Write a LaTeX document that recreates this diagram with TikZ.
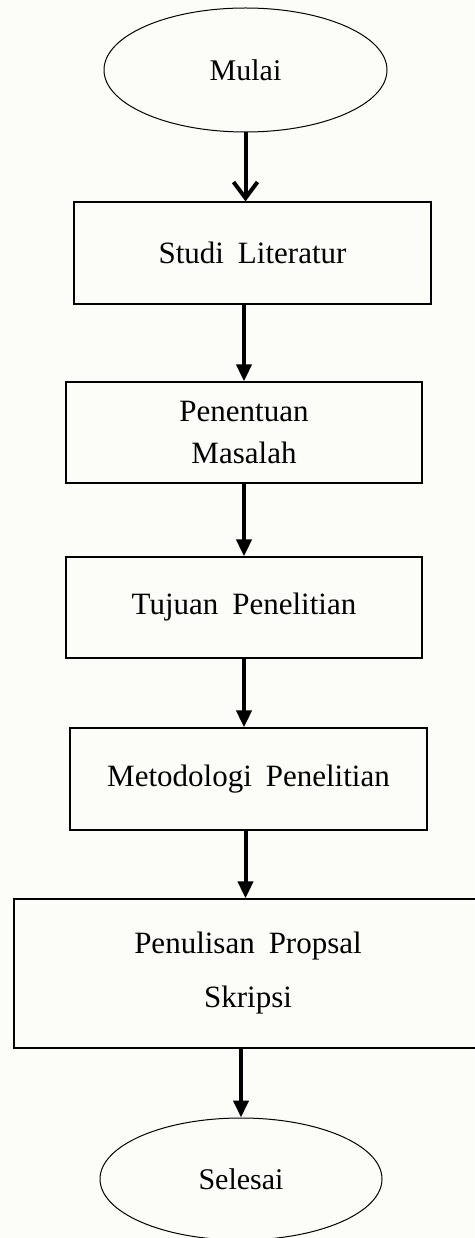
\documentclass[tikz,border=0pt]{standalone}
\usepackage{fontspec}
\setmainfont{Liberation Serif}[WordSpace=1.8]
\usetikzlibrary{shapes.geometric, arrows.meta}
\definecolor{paper}{RGB}{252,252,248}

\begin{document}
\begin{tikzpicture}[x=1pt, y=-1pt, >={Triangle[length=17pt, width=15pt]},
    terminal/.style={ellipse, draw, line width=1pt, inner sep=0pt, font=\fontsize{30}{36}\selectfont},
    process/.style={rectangle, draw, line width=1.3pt, inner sep=0pt, align=center, font=\fontsize{31}{42}\selectfont},
    flow/.style={->, line width=4pt}]
    \fill[paper] (0,0) rectangle (474,1238);
    \useasboundingbox (0,0) rectangle (474,1238);

    \node[terminal, minimum width=283pt, minimum height=124pt] (mulai) at (245.5,70) {Mulai};
    \node[process, minimum width=357pt, minimum height=102pt] (studi) at (252.5,253) {Studi Literatur};
    \node[process, minimum width=356pt, minimum height=101pt] (masalah) at (244,432.5) {Penentuan\\Masalah};
    \node[process, minimum width=356pt, minimum height=101pt] (tujuan) at (244,607.5) {Tujuan Penelitian};
    \node[process, minimum width=357pt, minimum height=102pt] (metode) at (248.5,779) {Metodologi Penelitian};
    \node[process, minimum width=468pt, minimum height=149pt] (proposal) at (248,973.5) {Penulisan Propsal\\[12pt]Skripsi};
    \node[terminal, minimum width=282pt, minimum height=122pt] (selesai) at (241,1179) {Selesai};

    \draw[line width=4pt, -{Straight Barb[length=16pt, width=24pt]}] (mulai.south) -- (mulai.south |- studi.north);
    \draw[flow] (studi.south -| masalah) -- (masalah.north);
    \draw[flow] (masalah.south) -- (tujuan.north);
    \draw[flow] (tujuan.south) -- (tujuan.south |- metode.north);
    \draw[flow] (metode.south -| mulai) -- (mulai |- proposal.north);
    \draw[flow] (proposal.south -| selesai) -- (selesai.north);
\end{tikzpicture}
\end{document}
